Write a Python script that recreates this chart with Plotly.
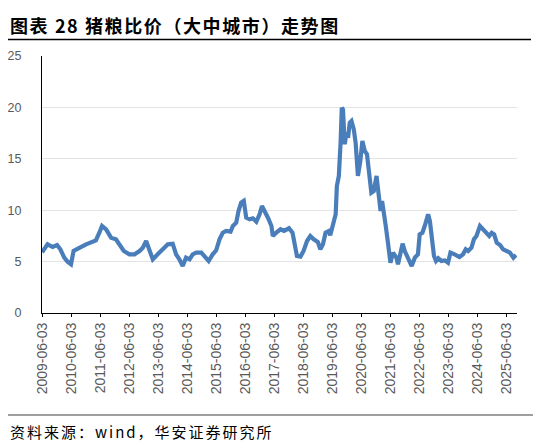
import plotly.graph_objects as go

# pig-grain price ratio
dates = [
    "2009-06-03", "2009-08-12", "2009-10-15", "2009-12-10", "2010-01-20", "2010-03-10",
    "2010-04-20", "2010-06-03", "2010-07-05", "2010-08-25", "2010-10-28", "2010-12-10",
    "2011-02-10", "2011-04-12", "2011-05-25", "2011-06-28", "2011-08-18", "2011-10-20",
    "2011-12-20", "2012-02-03", "2012-03-28", "2012-06-06", "2012-08-10", "2012-10-12",
    "2012-11-22", "2013-01-03", "2013-02-15", "2013-03-28", "2013-05-28", "2013-07-30",
    "2013-10-03", "2013-12-03", "2014-01-15", "2014-02-25", "2014-04-08", "2014-05-20",
    "2014-07-03", "2014-08-12", "2014-09-25", "2014-11-28", "2015-01-08", "2015-02-28",
    "2015-04-20", "2015-06-03", "2015-07-15", "2015-08-25", "2015-10-06", "2015-12-01",
    "2015-12-30", "2016-02-10", "2016-03-10", "2016-04-12", "2016-05-15", "2016-06-15",
    "2016-07-28", "2016-09-06", "2016-10-20", "2016-11-30", "2016-12-30", "2017-02-03",
    "2017-03-15", "2017-04-28", "2017-05-15", "2017-06-28", "2017-08-20", "2017-10-03",
    "2017-11-03", "2017-12-05", "2018-01-18", "2018-02-15", "2018-03-15", "2018-04-28",
    "2018-06-06", "2018-07-20", "2018-08-30", "2018-10-12", "2018-12-03", "2019-01-03",
    "2019-02-05", "2019-03-10", "2019-04-20", "2019-05-08", "2019-06-12", "2019-07-15",
    "2019-07-30", "2019-08-24", "2019-09-15", "2019-09-30", "2019-10-15", "2019-11-06",
    "2019-11-28", "2019-12-18", "2020-01-08", "2020-01-30", "2020-02-28", "2020-03-22",
    "2020-04-20", "2020-05-20", "2020-06-15", "2020-07-15", "2020-08-12", "2020-09-06",
    "2020-10-06", "2020-11-06", "2020-12-10", "2021-01-08", "2021-01-30", "2021-02-18",
    "2021-03-10", "2021-04-05", "2021-05-03", "2021-06-03", "2021-07-05", "2021-08-18",
    "2021-09-06", "2021-10-06", "2021-11-03", "2021-11-30", "2022-01-12", "2022-02-25",
    "2022-04-06", "2022-05-15", "2022-06-06", "2022-07-10", "2022-08-08", "2022-08-30",
    "2022-09-20", "2022-10-12", "2022-11-03", "2022-12-03", "2022-12-28", "2023-01-25",
    "2023-03-06", "2023-04-18", "2023-05-28", "2023-06-28", "2023-08-20", "2023-10-20",
    "2023-12-03", "2024-01-06", "2024-02-06", "2024-03-18", "2024-04-18", "2024-05-20",
    "2024-07-03", "2024-08-12", "2024-09-25", "2024-10-28", "2024-11-28", "2024-12-28",
    "2025-01-30", "2025-03-12", "2025-04-20", "2025-06-03", "2025-07-15", "2025-08-28",
    "2025-09-30",
]
ratio = [
    5.90, 6.68, 6.42, 6.60, 6.20, 5.38,
    5.00, 4.74, 6.03, 6.20, 6.50, 6.68,
    6.84, 7.07, 7.81, 8.46, 8.14, 7.33,
    7.17, 6.68, 6.03, 5.71, 5.71, 6.03,
    6.35, 7.00, 6.03, 5.22, 5.71, 6.20,
    6.68, 6.74, 5.71, 5.22, 4.57, 5.38,
    5.22, 5.71, 5.87, 5.87, 5.54, 5.06,
    5.71, 6.10, 7.17, 7.81, 7.98, 7.91,
    8.46, 8.78, 9.92, 10.73, 10.90, 9.27,
    9.11, 9.21, 8.88, 9.60, 10.41, 9.92,
    9.27, 8.46, 7.49, 7.81, 8.14, 7.98,
    8.14, 8.24, 7.81, 6.52, 5.54, 5.48,
    6.03, 7.00, 7.49, 7.17, 6.90, 6.20,
    6.68, 7.81, 7.98, 7.56, 8.46, 9.60,
    12.35, 13.33, 16.57, 19.97, 19.80, 16.41,
    17.54, 17.05, 18.51, 18.68, 17.87, 16.57,
    13.33, 14.79, 16.73, 15.76, 15.44, 13.65,
    11.70, 11.87, 13.33, 11.38, 9.92, 10.90,
    9.44, 8.46, 6.84, 4.89, 5.87, 5.38,
    4.74, 6.03, 6.74, 6.03, 5.22, 4.57,
    5.38, 5.71, 7.66, 7.81, 8.46, 8.95,
    9.60, 8.95, 7.33, 5.54, 5.06, 5.32,
    5.06, 5.12, 4.89, 5.87, 5.71, 5.45,
    5.71, 6.20, 6.03, 6.35, 7.17, 7.49,
    8.46, 8.14, 7.81, 7.49, 7.81, 7.66,
    6.84, 6.61, 6.20, 6.03, 5.87, 5.38,
    5.64,
]
tick_dates = [f"{y}-06-03" for y in range(2009, 2026)]
y_ticks = [0, 5, 10, 15, 20, 25]

TITLE = "图表 28 猪粮比价（大中城市）走势图"
SOURCE = "资料来源：wind，华安证券研究所"
CJK = "Noto Sans CJK SC"
LAT = "Liberation Sans"
GREY = "#595959"

fig = go.Figure()
fig.add_trace(go.Scatter(x=dates, y=ratio, mode="lines",
    line=dict(color="#4a7ebb", width=4.2), showlegend=False))

fig.update_xaxes(type="date", range=["2009-06-03", "2025-10-12"],
    tickvals=tick_dates, ticktext=tick_dates, tickangle=-90,
    showgrid=False, showline=True, linecolor="#000", linewidth=1.3,
    ticks="outside", ticklen=3, tickcolor="#000", tickwidth=1.3,
    automargin=False,
    tickfont=dict(family=LAT, size=14, color=GREY))
fig.update_yaxes(range=[0, 25], tickvals=y_ticks, showgrid=True,
    gridcolor="#e3e3e3", gridwidth=1, zeroline=False,
    showline=True, linecolor="#000", linewidth=1.3, ticks="",
    ticklabelstandoff=17, automargin=False,
    tickfont=dict(family=LAT, size=12.5, color=GREY))

# page pixels -> paper (plot area sits at 42..517 x 56..313 in the window)
def px(x):
    return (x - 42) / 475

def py(y):
    return (313 - y) / 257

fig.add_shape(type="line", xref="paper", yref="paper",
    x0=px(8), x1=px(531), y0=py(39.5), y1=py(39.5), line=dict(color="#000", width=1.3))
fig.add_shape(type="line", xref="paper", yref="paper",
    x0=px(8), x1=px(541), y0=py(415), y1=py(415), line=dict(color="#7f7f7f", width=1.5))
fig.add_annotation(text=f'<b><span style="letter-spacing:1.6px">{TITLE}</span></b>',
    xref="paper", yref="paper", x=px(8), y=py(25), xanchor="left", yanchor="middle",
    showarrow=False, font=dict(family=CJK, size=18, color="#000"))
fig.add_annotation(text=f'<span style="letter-spacing:2px">{SOURCE}</span>',
    xref="paper", yref="paper", x=px(8), y=py(431), xanchor="left", yanchor="middle",
    showarrow=False, font=dict(family=CJK, size=15, color="#000"))

# page body has an 8px margin, so the figure is 8px smaller than the window
fig.update_layout(width=533, height=438, paper_bgcolor="#fff", plot_bgcolor="#fff",
    margin=dict(l=34, r=24, t=48, b=133), font=dict(family=CJK))

fig.write_html("out.html")
